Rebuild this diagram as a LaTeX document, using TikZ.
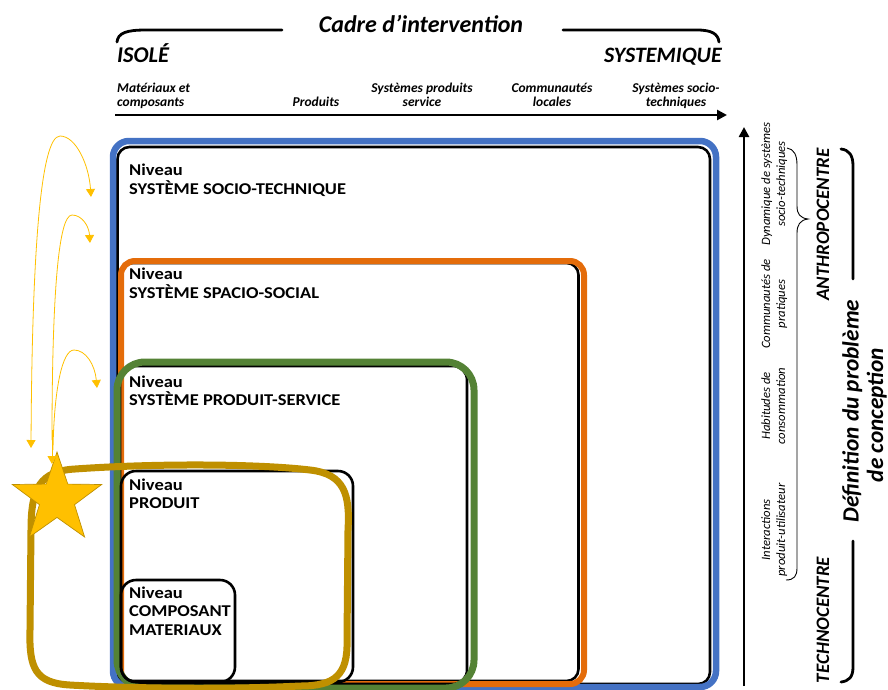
\documentclass[tikz,border=0pt]{standalone}
\usepackage{fontspec}
\setmainfont{Carlito}
\usetikzlibrary{arrows.meta,shapes.geometric}
\definecolor{lvlblue}{HTML}{4472C4}
\definecolor{lvlorange}{HTML}{E46C0A}
\definecolor{lvlgreen}{HTML}{548235}
\definecolor{lvlgold}{HTML}{BF9000}
\definecolor{staryellow}{HTML}{FFC000}
\newcommand{\fsz}[2]{\fontsize{#1}{#2}\selectfont}
\tikzset{
  frame/.style={rounded corners=#1, line width=2.6pt, draw=black},
  lvllabel/.style={anchor=north west, align=left, inner sep=0pt, xscale=1.12,
                   font=\fsz{16.5}{18.5}\bfseries},
  axislabel/.style={inner sep=0pt, anchor=base, font=\fsz{13.5}{15}\bfseries\itshape},
  sidelabel/.style={rotate=90, inner sep=0pt, anchor=base, font=\fsz{12.7}{15}\itshape},
  poletext/.style={rotate=90, inner sep=0pt, anchor=base, font=\fsz{19}{22}\bfseries\itshape},
  bigtext/.style={rotate=90, inner sep=0pt, anchor=base, font=\fsz{23.3}{26}\bfseries\itshape},
  hop/.style={draw=staryellow, line width=0.8pt, -{Triangle[length=8pt,width=9pt]}},
  thickline/.style={line width=2.8pt, line cap=round},
}
\begin{document}
\begin{tikzpicture}[x=1pt,y=-1pt]
\useasboundingbox (0,0) rectangle (888,689);

% ---- top scale: intervention framework
\node[font=\fsz{24}{28}\bfseries\itshape, inner sep=0pt] (cadre) at (421,24) {Cadre d’intervention};
\coordinate (bl0) at (117,42);
\coordinate (bl1) at (282,30);
\coordinate (br0) at (563,30);
\coordinate (br1) at (719,42);
\draw[thickline] (bl0) .. controls (118,33) and (126,30) .. (146,30) -- (bl1);
\draw[thickline] (br0) -- (697,30) .. controls (712,30) and (718,34) .. (br1);
\node[anchor=base west, inner sep=0pt, font=\fsz{22.5}{25}\bfseries\itshape] (isole) at (117,62) {ISOLÉ};
\node[anchor=base east, inner sep=0pt, font=\fsz{22}{25}\bfseries\itshape] (syst) at (722,62) {SYSTEMIQUE};

\node[axislabel, anchor=base west] (ax1a) at (117,92.5) {Matériaux et};
\node[axislabel, anchor=base west] (ax1b) at (117,106.5) {composants};
\node[axislabel] (ax2) at (316,106.5) {Produits};
\node[axislabel] (ax3a) at (422,92.5) {Systèmes produits};
\node[axislabel] (ax3b) at (422,106.5) {service};
\node[axislabel] (ax4a) at (552,92.5) {Communautés};
\node[axislabel] (ax4b) at (552,106.5) {locales};
\node[axislabel] (ax5a) at (676,92.5) {Systèmes socio-};
\node[axislabel] (ax5b) at (676,106.5) {techniques};
\coordinate (axL) at (115,115);
\coordinate (axR) at (727,115);
\draw[line width=2.8pt, -{Triangle[length=10pt,width=10pt]}] (axL) -- (axR);

% ---- nested levels (each coloured frame with its dark inner rim)
\draw[frame=12] (117.5,147) rectangle (710,684);
\draw[draw=lvlblue, line width=6.5pt, rounded corners=16] (113,141) rectangle (716,687);

\draw[frame=12] (121,263) rectangle (578.5,681);
\draw[draw=lvlorange, line width=6pt, rounded corners=14] (121,261) rectangle (584,684);

\draw[frame=14] (120,366) rectangle (467,684);
\draw[draw=lvlgreen, line width=7pt, rounded corners=28] (117,362) rectangle (474,688);

\draw[frame=15] (121,471) rectangle (353,682);
\draw[frame=15] (121,580) rectangle (235,682);

\node[lvllabel] (n1) at (129,164) {Niveau\\SYSTÈME SOCIO-TECHNIQUE};
\node[lvllabel] (n2) at (129,268) {Niveau\\SYSTÈME SPACIO-SOCIAL};
\node[lvllabel] (n3) at (129,375.5) {Niveau\\SYSTÈME PRODUIT-SERVICE};
\node[lvllabel] (n4) at (129,478.5) {Niveau\\PRODUIT};
\node[lvllabel] (n5) at (129,586.5) {Niveau\\COMPOSANT\\MATERIAUX};

% ---- hand-drawn focus loop and star
\draw[draw=lvlgold, line width=7pt, line join=round]
  (75,469) .. controls (160,463) and (260,464) .. (310,470)
  .. controls (345,474) and (350,495) .. (348,530)
  -- (347,640) .. controls (348,675) and (335,686) .. (300,686)
  .. controls (220,690) and (120,688) .. (70,685)
  .. controls (35,683) and (29,668) .. (30,630)
  -- (31,530) .. controls (31,488) and (40,471) .. cycle;
\node[star, star points=5, star point ratio=2.55, minimum size=94pt, inner sep=0pt,
      fill=staryellow, draw=lvlgold, line width=0.7pt] (star) at (57,499) {};

% ---- upward hops towards the wider levels
\coordinate (h1a) at (31,448);
\coordinate (h1b) at (91,197);
\coordinate (h2a) at (52,464);
\coordinate (h2b) at (90,243);
\coordinate (h3b) at (97,388);
\draw[hop, {Triangle[length=8pt,width=9pt]}-{Triangle[length=8pt,width=9pt]}]
  (h1a) .. controls (32,260) and (40,136) .. (60,136) .. controls (76,136) and (89,165) .. (h1b);
\draw[hop] (52,440) .. controls (52,300) and (58,215) .. (72,215) .. controls (82,215) and (89,226) .. (h2b);
\draw[hop] (53,450) .. controls (54,390) and (62,350) .. (74,350) .. controls (86,350) and (95,365) .. (h3b);
\draw[hop] (52,430) -- (h2a);

% ---- right scale: problem definition
\coordinate (vB) at (744,686);
\coordinate (vT) at (744,127);
\draw[line width=2.8pt, -{Triangle[length=10pt,width=10pt]}] (vB) -- (vT);

\node[sidelabel] (s1a) at (770,530) {Interactions};
\node[sidelabel] (s1b) at (785,530) {produit-utilisateur};
\node[sidelabel] (s2a) at (770,406) {Habitudes de};
\node[sidelabel] (s2b) at (785,406) {consommation};
\node[sidelabel] (s3a) at (770,304) {Communautés de};
\node[sidelabel] (s3b) at (785,304) {pratiques};
\node[sidelabel] (s4a) at (770,184) {Dynamique de systèmes};
\node[sidelabel] (s4b) at (785,184) {socio-techniques};

\coordinate (brT) at (787,148);
\coordinate (brTip) at (808,219);
\coordinate (brB) at (786,580);
\draw[line width=0.9pt] (brT) .. controls (794,149) and (797,155) .. (797,165) -- (797,206)
  .. controls (797,214) and (800,218) .. (brTip)
  .. controls (800,220) and (797,225) .. (797,233) -- (797,568)
  .. controls (797,576) and (794,580) .. (brB);

\node[poletext] (anthro) at (829,224.5) {ANTHROPOCENTRE};
\node[poletext] (techno) at (829,620) {TECHNOCENTRE};

\coordinate (bgT) at (841,149);
\coordinate (bgM1) at (853,279);
\coordinate (bgM2) at (853,541);
\coordinate (bgB) at (841,682);
\draw[thickline] (bgT) .. controls (849,150) and (853,155) .. (853,166) -- (bgM1);
\draw[thickline] (bgM2) -- (853,667) .. controls (853,677) and (849,681) .. (bgB);

\node[bigtext] (defi1) at (858.5,411) {Définition du problème};
\node[bigtext] (defi2) at (883,415) {de conception};
\end{tikzpicture}
\end{document}
